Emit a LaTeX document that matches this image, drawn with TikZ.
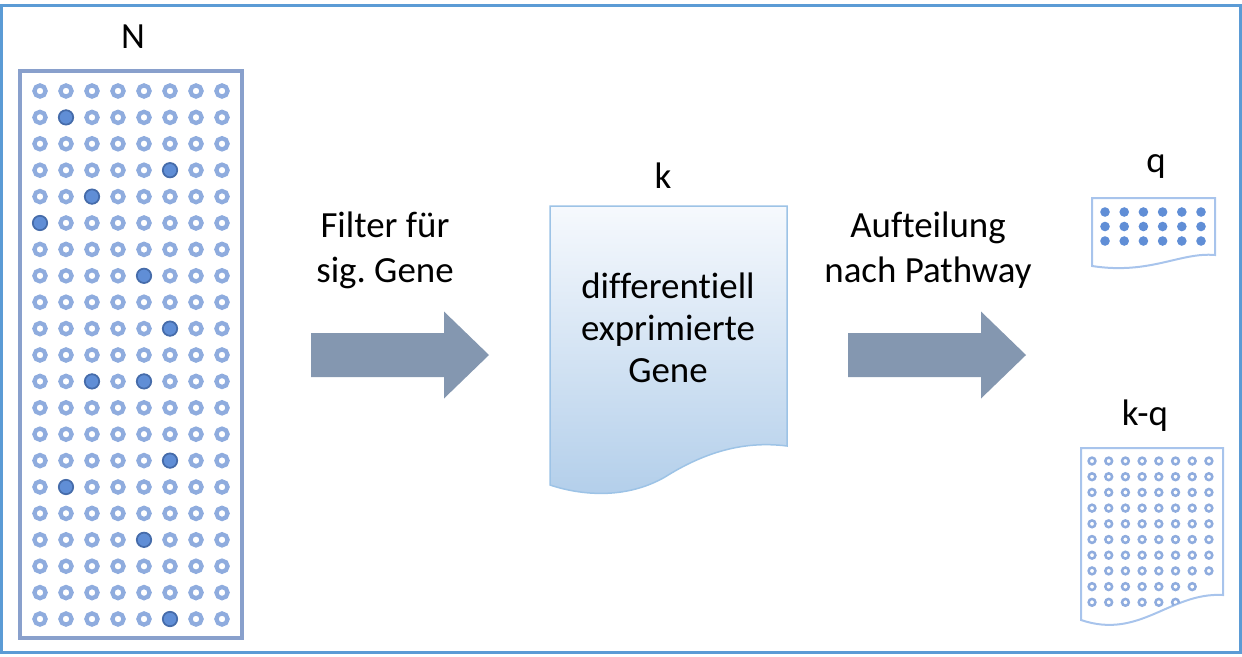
\documentclass[tikz,border=0pt]{standalone}
\usepackage{fontspec}
\setmainfont{Carlito}[Ligatures=NoCommon]
\frenchspacing
\usepackage{tikz}
\definecolor{framecol}{RGB}{91,155,213}
\definecolor{ringcol}{RGB}{143,172,222}
\definecolor{dotcol}{RGB}{96,142,214}
\definecolor{dotedge}{RGB}{70,108,170}
\definecolor{gridedge}{RGB}{137,160,204}
\definecolor{arrowcol}{RGB}{132,151,176}
\definecolor{doctop}{RGB}{246,249,253}
\definecolor{docbottom}{RGB}{178,206,234}
\definecolor{docedge}{RGB}{157,195,230}
\definecolor{sheetedge}{RGB}{168,196,236}

\begin{document}
\begin{tikzpicture}[scale=0.2]
    \tikzstyle{every node}+=[inner sep=0pt, font=\fontsize{21}{25.6}\selectfont]
    \useasboundingbox (0,0) rectangle (124.2,-65.6);
    \draw [framecol, line width=0.06cm] (0.2,-0.5) rectangle (124.0,-65.2);
    % all genes
    \draw [gridedge, line width=0.07cm] (2,-7.1) rectangle (24.2,-63.8);
    \foreach \i in {0,...,20}
      \foreach \j in {0,...,7}
        \draw [ringcol, line width=0.085cm] (4+2.6*\j,-9.1-2.64*\i) circle (0.56);
    \foreach \i/\j in {1/1,3/5,4/2,5/0,7/4,9/5,11/2,11/4,14/5,15/1,17/4,20/5}
      \draw [dotedge, fill=dotcol, line width=0.035cm] (4+2.6*\j,-9.1-2.64*\i) circle (0.72);
    \draw (13.3,-4.8) node [anchor=base] (lblN) {N};
    % filter step
    \draw (38.5,-28.2) node [anchor=base, align=center] (filtertxt) {Filter für\\sig. Gene};
    \fill [arrowcol] (31.1,-33.3) -- (44.4,-33.3) -- (44.4,-31.15) -- (48.9,-35.5) -- (44.4,-39.85) -- (44.4,-37.7) -- (31.1,-37.7) -- cycle;
    % k genes
    \shadedraw [top color=doctop, bottom color=docbottom, draw=docedge, line width=0.03cm] (55,-20.6) -- (78.7,-20.6) -- (78.7,-44.6) .. controls (74,-44.0) and (70,-45.5) .. (66.5,-47.7) .. controls (62.5,-50.0) and (58,-49.5) .. (55,-48.5) -- cycle;
    \draw (66.3,-18.8) node [anchor=base] (lblk) {k};
    \draw (66.8,-38.2) node [anchor=base, align=center, font=\fontsize{21}{23.7}\selectfont] (doctxt) {differentiell\\exprimierte\\Gene};
    % split step
    \draw (92.8,-28.2) node [anchor=base, align=center] (splittxt) {Aufteilung\\nach Pathway};
    \fill [arrowcol] (84.8,-33.3) -- (98.1,-33.3) -- (98.1,-31.15) -- (102.6,-35.5) -- (98.1,-39.85) -- (98.1,-37.7) -- (84.8,-37.7) -- cycle;
    % q genes
    \draw [sheetedge, line width=0.04cm] (109.2,-19.8) -- (121.5,-19.8) -- (121.5,-25.5) .. controls (118,-25.2) and (115,-27.5) .. (109.2,-26.6) -- cycle;
    \foreach \i in {0,1,2}
      \foreach \j in {0,...,5}
        \fill [dotcol] (110.5+1.92*\j,-21.2-1.45*\i) circle (0.48);
    \draw (115.6,-17.2) node [anchor=base] (lblq) {q};
    % k-q genes
    \draw [sheetedge, line width=0.04cm] (108.1,-44.8) -- (122.3,-44.8) -- (122.3,-59.5) .. controls (117,-59.2) and (114,-64.0) .. (108.1,-62.0) -- cycle;
    \begin{scope}
      \clip (108.1,-44.8) -- (122.3,-44.8) -- (122.3,-59.5) .. controls (117,-59.2) and (114,-64.0) .. (108.1,-62.0) -- cycle;
      \foreach \i in {0,...,7}
        \foreach \j in {0,...,7}
          \draw [ringcol, line width=0.05cm] (109.2+1.67*\j,-46.1-1.57*\i) circle (0.34);
      \foreach \j in {0,...,6}
        \draw [ringcol, line width=0.05cm] (109.2+1.67*\j,-58.66) circle (0.34);
      \foreach \j in {0,...,5}
        \draw [ringcol, line width=0.05cm] (109.2+1.67*\j,-60.23) circle (0.34);
    \end{scope}
    \draw (114.5,-42.5) node [anchor=base] (lblkq) {k-q};
\end{tikzpicture}
\end{document}
